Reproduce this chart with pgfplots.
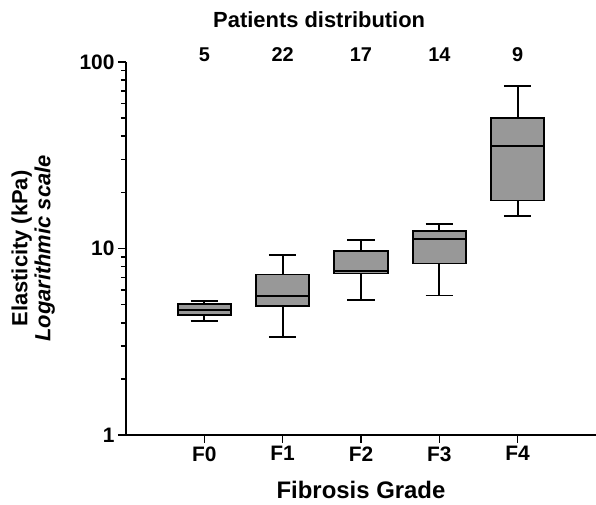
\documentclass[border=0pt]{standalone}
\usepackage{fontspec}
\setmainfont{Liberation Sans}
\usepackage{pgfplots}
\pgfplotsset{compat=1.18}
\definecolor{boxgray}{RGB}{152,152,152}
\begin{document}
\begin{tikzpicture}
\useasboundingbox (-126bp,-70bp) rectangle (470bp,435bp);
\begin{axis}[
  at={(0,0)}, anchor=south west,
  scale only axis, width=470bp, height=373bp,
  ymode=log, ymin=1, ymax=100,
  xmin=-1, xmax=5,
  clip=false,
  axis x line=bottom, axis y line=left,
  axis line style={-, line width=1.6bp},
  log ticks with fixed point,
  /pgf/number format/assume math mode=true,
  xtick={0,1,2,3,4}, xticklabels={F0,F1,F2,F3,F4},
  tick align=outside,
  major tick length=8bp, minor tick length=5bp,
  tick style={black, line width=1.6bp},
  minor tick style={black, line width=1.6bp},
  ticklabel style={font=\bfseries\fontsize{21}{25}\selectfont},
  xlabel={Fibrosis Grade},
  xlabel style={font=\bfseries\fontsize{24}{28}\selectfont, at={(axis description cs:0.5,-0.17)}, anchor=base},
  ylabel={Elasticity (kPa)\\\textit{Logarithmic scale}},
  ylabel style={font=\bfseries\fontsize{22}{23}\selectfont, align=center, at={(axis description cs:-0.151,0.5)}, anchor=south, inner sep=0pt},
  cycle list={{black, solid, mark=none}},
  every axis plot post/.append style={line width=1.8bp},
]
% F0: lw 4.08, q1 4.39, med 4.67, q3 5.03, uw 5.22
\addplot+[fill=boxgray] coordinates {(-0.34,4.39) (0.34,4.39) (0.34,5.03) (-0.34,5.03)} -- cycle;
\addplot coordinates {(-0.34,4.67) (0.34,4.67)};
\addplot coordinates {(0,5.03) (0,5.22)};
\addplot coordinates {(-0.175,5.22) (0.175,5.22)};
\addplot coordinates {(0,4.39) (0,4.08)};
\addplot coordinates {(-0.175,4.08) (0.175,4.08)};
% F1: 3.36, 4.93, 5.55, 7.26, 9.24
\addplot+[fill=boxgray] coordinates {(0.66,4.93) (1.34,4.93) (1.34,7.26) (0.66,7.26)} -- cycle;
\addplot coordinates {(0.66,5.55) (1.34,5.55)};
\addplot coordinates {(1,7.26) (1,9.24)};
\addplot coordinates {(0.825,9.24) (1.175,9.24)};
\addplot coordinates {(1,4.93) (1,3.36)};
\addplot coordinates {(0.825,3.36) (1.175,3.36)};
% F2: 5.27, 7.35, 7.59, 9.71, 11.1
\addplot+[fill=boxgray] coordinates {(1.66,7.35) (2.34,7.35) (2.34,9.71) (1.66,9.71)} -- cycle;
\addplot coordinates {(1.66,7.59) (2.34,7.59)};
\addplot coordinates {(2,9.71) (2,11.1)};
\addplot coordinates {(1.825,11.1) (2.175,11.1)};
\addplot coordinates {(2,7.35) (2,5.27)};
\addplot coordinates {(1.825,5.27) (2.175,5.27)};
% F3: 5.60, 8.31, 11.2, 12.4, 13.5
\addplot+[fill=boxgray] coordinates {(2.66,8.31) (3.34,8.31) (3.34,12.4) (2.66,12.4)} -- cycle;
\addplot coordinates {(2.66,11.2) (3.34,11.2)};
\addplot coordinates {(3,12.4) (3,13.5)};
\addplot coordinates {(2.825,13.5) (3.175,13.5)};
\addplot coordinates {(3,8.31) (3,5.60)};
\addplot coordinates {(2.825,5.60) (3.175,5.60)};
% F4: 14.9, 18.1, 35.3, 50.3, 74.0
\addplot+[fill=boxgray] coordinates {(3.66,18.1) (4.34,18.1) (4.34,50.3) (3.66,50.3)} -- cycle;
\addplot coordinates {(3.66,35.3) (4.34,35.3)};
\addplot coordinates {(4,50.3) (4,74.0)};
\addplot coordinates {(3.825,74.0) (4.175,74.0)};
\addplot coordinates {(4,18.1) (4,14.9)};
\addplot coordinates {(3.825,14.9) (4.175,14.9)};
% minor tick marks on the log axis
\pgfplotsinvokeforeach{2,3,4,5,6,7,8,9,20,30,40,50,60,70,80,90}{
  \draw[black, line width=1.6bp] (axis cs:-1,#1) -- ++(-5bp,0pt);
}
\begin{scope}[every node/.style={anchor=base, font=\bfseries\fontsize{20}{24}\selectfont}]
\node at (axis cs:0,100) {5};
\node at (axis cs:1,100) {22};
\node at (axis cs:2,100) {17};
\node at (axis cs:3,100) {14};
\node at (axis cs:4,100) {9};
\end{scope}
\node[anchor=base, font=\bfseries\fontsize{22}{26}\selectfont] at ([yshift=34bp]rel axis cs:0.411,1) {Patients distribution};
\end{axis}
\end{tikzpicture}
\end{document}
